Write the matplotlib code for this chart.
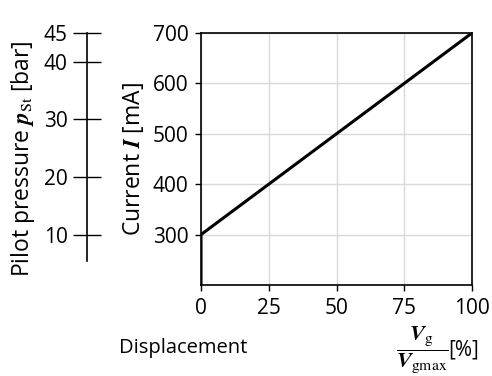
import matplotlib
matplotlib.use("Agg")
import matplotlib.pyplot as plt

# characteristic curve: displacement [%] vs control current [mA]
displacement = [0, 0, 100]
current = [200, 300, 700]

x_ticks = [0, 25, 50, 75, 100]
i_ticks = [300, 400, 500, 600, 700]
p_ticks = [10, 20, 30, 40, 45]
# pilot pressure scale tied to current: 300 mA -> 10 bar, 700 mA -> 45 bar
p_at_300, p_at_700 = 10, 45

plt.rcParams['font.family'] = ['Open Sans', 'DejaVu Sans']
plt.rcParams['mathtext.fontset'] = 'stix'
plt.rcParams['font.size'] = 15

fig = plt.figure(figsize=(4.92, 3.76), dpi=100)
left, right, top, bottom = 201 / 492, 472 / 492, 1 - 33 / 376, 1 - 285 / 376
ax = fig.add_axes([left, bottom, right - left, top - bottom])

ax.plot(displacement, current, color='black', lw=2.2, solid_joinstyle='miter')
ax.set_xlim(0, 100)
ax.set_ylim(200, 700)
ax.set_xticks(x_ticks)
ax.set_yticks(i_ticks)
ax.grid(True, color='#d9d9d9', lw=1)
ax.set_axisbelow(True)
ax.tick_params(length=4, width=1, color='black', pad=5)
for s in ax.spines.values():
    s.set_linewidth(1.2)
ax.set_ylabel(r'Current $\mathbfit{I}$ [mA]', fontsize=16.5, labelpad=5)

# secondary pressure axis on the far left
pax = fig.add_axes([87 / 492, bottom, 0.001, top - bottom])
slope = (p_at_700 - p_at_300) / (700 - 300)
pax.set_ylim(p_at_300 + (200 - 300) * slope, p_at_700)
pax.set_xticks([])
pax.set_yticks(p_ticks)
for k in ['top', 'right', 'bottom']:
    pax.spines[k].set_visible(False)
pax.spines['left'].set_bounds(5.5, 45)
pax.spines['left'].set_linewidth(1.2)
pax.patch.set_visible(False)
pax.tick_params(axis='y', direction='inout', length=20, width=1, pad=4)
pax.set_ylabel(r'Pilot pressure $\mathbfit{p}_{\mathrm{St}}$ [bar]', fontsize=16.5, labelpad=5)

fig.text(183 / 492, 1 - 348 / 376, 'Displacement', ha='center', va='center', fontsize=14.5)
fig.text(422 / 492, 1 - 350 / 376,
         r'$\dfrac{\mathbfit{V}_{\mathrm{g}}}{\mathbfit{V}_{\mathrm{gmax}}}$',
         ha='center', va='center', fontsize=16)
fig.text(448 / 492, 1 - 350 / 376, '[%]', ha='left', va='center', fontsize=15)

fig.savefig('out.png', dpi=100)
